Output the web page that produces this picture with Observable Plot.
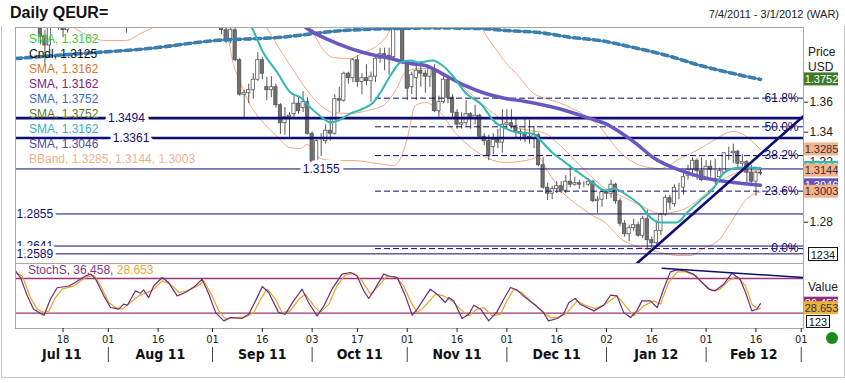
<!DOCTYPE html>
<html>
<head>
<meta charset="utf-8">
<script src="https://cdn.jsdelivr.net/npm/d3@7"></script>
<script src="https://cdn.jsdelivr.net/npm/@observablehq/plot@0.6"></script>
<style>
  html,body{margin:0;padding:0;background:#fff;}
  #root{position:relative;width:845px;height:383px;overflow:hidden;background:#fff;font-family:"Liberation Sans",Arial,sans-serif;}
  .abs{position:absolute;white-space:nowrap;}
  .plot{position:absolute;left:0;}
</style>
</head>
<body>
<div id="root"></div>
<script>
// ================= DATA =================
// trading-day index 0 = Mon 4 Jul 2011 ... 173 = Thu 1 Mar 2012
const opens = [
1.4503,1.4525,1.4414,1.4326,1.4330,1.4263,1.4040,1.3978,1.4155,1.4150,
1.4150,1.4080,1.4155,1.4140,1.4380,1.4360,1.4370,1.4500,1.4360,1.4330,
1.4390,1.4240,1.4190,1.4330,1.4140,1.4280,1.4190,1.4370,1.4170,1.4230,
1.4240,1.4430,1.4400,1.4440,1.4340,1.4390,1.4390,1.4450,1.4410,1.4390,
1.4500,1.4500,1.4440,1.4380,1.4230,1.4200,1.4080,1.4020,1.4080,1.3880,
1.3650,1.3660,1.3680,1.3750,1.3880,1.3700,1.3680,1.3700,1.3580,1.3460,
1.3500,1.3520,1.3590,1.3560,1.3600,1.3390,1.3170,1.3340,1.3340,1.3410,
1.3390,1.3620,1.3610,1.3790,1.3760,1.3880,1.3735,1.3760,1.3740,1.3770,
1.3890,1.3920,1.3910,1.3900,1.4180,1.4150,1.3860,1.3700,1.3760,1.3810,
1.3790,1.3770,1.3820,1.3540,1.3600,1.3750,1.3630,1.3530,1.3450,1.3460,
1.3520,1.3490,1.3510,1.3370,1.3340,1.3300,1.3350,1.3330,1.3450,1.3460,
1.3440,1.3400,1.3390,1.3370,1.3360,1.3380,1.3180,1.3030,1.2990,1.3020,
1.3040,1.3010,1.3070,1.3050,1.3060,1.3050,1.3050,1.3070,1.2940,1.2950,
1.3000,1.2990,1.3050,1.2940,1.2790,1.2720,1.2760,1.2780,1.2710,1.2820,
1.2680,1.2660,1.2740,1.2850,1.2960,1.2920,1.3030,1.3030,1.3110,1.3150,
1.3210,1.3140,1.3080,1.3170,1.3150,1.3100,1.3130,1.3260,1.3260,1.3270,
1.3190,1.3200,1.3130,1.3070,1.3130];
const highs = [
1.4537,1.4530,1.4430,1.4380,1.4345,1.4265,1.4080,1.4170,1.4220,1.4185,
1.4160,1.4170,1.4240,1.4430,1.4400,1.4400,1.4520,1.4540,1.4390,1.4440,
1.4450,1.4290,1.4340,1.4350,1.4330,1.4350,1.4400,1.4390,1.4270,1.4290,
1.4450,1.4480,1.4490,1.4450,1.4430,1.4440,1.4470,1.4470,1.4450,1.4510,
1.4550,1.4530,1.4500,1.4390,1.4260,1.4200,1.4130,1.4110,1.4110,1.3890,
1.3680,1.3720,1.3790,1.3930,1.3900,1.3765,1.3770,1.3720,1.3590,1.3565,
1.3530,1.3640,1.3640,1.3670,1.3630,1.3400,1.3350,1.3390,1.3450,1.3500,
1.3650,1.3700,1.3800,1.3800,1.3890,1.3910,1.3790,1.3850,1.3800,1.3900,
1.3960,1.3960,1.3960,1.4247,1.4200,1.4160,1.3870,1.3800,1.3870,1.3870,
1.3810,1.3840,1.3850,1.3640,1.3770,1.3780,1.3650,1.3550,1.3530,1.3610,
1.3530,1.3580,1.3520,1.3390,1.3380,1.3390,1.3420,1.3550,1.3550,1.3550,
1.3490,1.3420,1.3500,1.3480,1.3440,1.3390,1.3230,1.3060,1.3040,1.3070,
1.3070,1.3110,1.3180,1.3100,1.3080,1.3070,1.3090,1.3080,1.2970,1.3010,
1.3010,1.3080,1.3060,1.2960,1.2810,1.2780,1.2820,1.2800,1.2840,1.2880,
1.2700,1.2810,1.2860,1.2980,1.2980,1.3050,1.3060,1.3130,1.3180,1.3230,
1.3220,1.3230,1.3210,1.3210,1.3220,1.3160,1.3260,1.3300,1.3320,1.3280,
1.3250,1.3210,1.3180,1.3140,1.3150];
const lows = [
1.4466,1.4398,1.4290,1.4268,1.4210,1.3982,1.3840,1.3950,1.4110,1.4080,
1.4030,1.4060,1.4130,1.4130,1.4300,1.4280,1.4350,1.4340,1.4280,1.4240,
1.4220,1.4150,1.4150,1.4100,1.4060,1.4150,1.4160,1.4160,1.4120,1.4180,
1.4230,1.4340,1.4380,1.4280,1.4310,1.4340,1.4380,1.4340,1.4360,1.4330,
1.4450,1.4400,1.4370,1.4230,1.4150,1.4050,1.3990,1.3990,1.3870,1.3640,
1.3495,1.3590,1.3620,1.3740,1.3750,1.3610,1.3630,1.3560,1.3385,1.3380,
1.3360,1.3500,1.3520,1.3530,1.3380,1.3160,1.3146,1.3240,1.3320,1.3340,
1.3380,1.3530,1.3600,1.3720,1.3730,1.3700,1.3650,1.3710,1.3600,1.3730,
1.3860,1.3810,1.3780,1.3880,1.4110,1.3850,1.3610,1.3650,1.3610,1.3700,
1.3660,1.3700,1.3530,1.3500,1.3590,1.3590,1.3490,1.3420,1.3420,1.3440,
1.3420,1.3450,1.3360,1.3310,1.3211,1.3250,1.3290,1.3260,1.3420,1.3420,
1.3360,1.3340,1.3330,1.3320,1.3290,1.3170,1.3020,1.2945,1.2950,1.2990,
1.2990,1.2990,1.3030,1.3040,1.3020,1.3030,1.3040,1.2930,1.2859,1.2900,
1.2950,1.2960,1.2920,1.2770,1.2700,1.2670,1.2740,1.2700,1.2690,1.2624,
1.2625,1.2650,1.2710,1.2840,1.2880,1.2900,1.2950,1.2980,1.3080,1.3100,
1.3080,1.3070,1.3080,1.3100,1.3050,1.3080,1.3120,1.3210,1.3190,1.3160,
1.3170,1.3060,1.3060,1.2973,1.3110];
const closes = [
1.4525,1.4414,1.4326,1.4330,1.4263,1.4035,1.3978,1.4155,1.4150,1.4150,
1.4080,1.4155,1.4140,1.4380,1.4360,1.4370,1.4500,1.4360,1.4330,1.4390,
1.4240,1.4190,1.4330,1.4140,1.4280,1.4190,1.4370,1.4170,1.4230,1.4240,
1.4430,1.4400,1.4440,1.4340,1.4390,1.4390,1.4450,1.4410,1.4390,1.4500,
1.4500,1.4440,1.4380,1.4230,1.4200,1.4080,1.4020,1.4080,1.3880,1.3650,
1.3660,1.3680,1.3750,1.3880,1.3790,1.3680,1.3700,1.3580,1.3460,1.3500,
1.3510,1.3590,1.3540,1.3600,1.3390,1.3170,1.3340,1.3340,1.3410,1.3390,
1.3620,1.3610,1.3790,1.3760,1.3880,1.3735,1.3760,1.3740,1.3770,1.3890,
1.3920,1.3910,1.3900,1.4180,1.4150,1.3860,1.3690,1.3780,1.3810,1.3790,
1.3770,1.3820,1.3540,1.3600,1.3750,1.3630,1.3530,1.3450,1.3460,1.3520,
1.3490,1.3510,1.3370,1.3340,1.3240,1.3350,1.3330,1.3450,1.3460,1.3440,
1.3400,1.3390,1.3370,1.3360,1.3380,1.3180,1.3030,1.2990,1.3020,1.3040,
1.3010,1.3070,1.3050,1.3060,1.3050,1.3050,1.3070,1.2940,1.2950,1.3000,
1.2990,1.3050,1.2940,1.2790,1.2720,1.2760,1.2780,1.2710,1.2820,1.2680,
1.2660,1.2740,1.2850,1.2960,1.2930,1.3030,1.3030,1.3100,1.3150,1.3210,
1.3140,1.3080,1.3170,1.3150,1.3150,1.3140,1.3260,1.3260,1.3270,1.3190,
1.3200,1.3130,1.3070,1.3130,1.3125];

// indicator lines: [trading-day index, value]
const smaTeal = [[44,1.4300],[49,1.4180],[51.4,1.4111],[54.2,1.3931],[57.3,1.3798],[60.2,1.3665],[62.4,1.3631],[64.6,1.3565],[67.5,1.3491],[69,1.3465],[70.8,1.3478],[73.5,1.3525],[76.3,1.3558],[78.5,1.3598],[80.1,1.3665],[82.3,1.3778],[84.5,1.3865],[86.7,1.3878],[88.5,1.3865],[91.6,1.3878],[93.8,1.3845],[96,1.3778],[98.8,1.3665],[102.6,1.3578],[105,1.3478],[107.7,1.3425],[110.5,1.3398],[113.6,1.3391],[115,1.3358],[118,1.3265],[120.9,1.3198],[123.8,1.3131],[126.9,1.3065],[129.7,1.3011],[131.5,1.3025],[134.6,1.2978],[137.5,1.2911],[139.7,1.2831],[141.9,1.2798],[145.6,1.2798],[147.8,1.2865],[150.7,1.2945],[153.6,1.3025],[155.8,1.3125],[158,1.3158],[160.2,1.3165],[162.4,1.3165],[164,1.3162]];
const smaPurple = [[58,1.4250],[63.9,1.4091],[70.6,1.3991],[76.3,1.3931],[82.3,1.3891],[86.7,1.3858],[90,1.3845],[94.4,1.3778],[98.8,1.3711],[103.3,1.3658],[107.7,1.3625],[112.1,1.3605],[116.5,1.3578],[120.9,1.3545],[126.4,1.3491],[129.5,1.3460],[133.1,1.3398],[136.7,1.3320],[140.3,1.3231],[146.3,1.3145],[152.3,1.3091],[158,1.3065],[164,1.3046]];
const smaLong = [[-0.5,1.3891],[14.3,1.3925],[28.9,1.3958],[43.6,1.4011],[57.3,1.4031],[71.9,1.4078],[83,1.4091],[92,1.4095],[102.6,1.4091],[107.7,1.4078],[115,1.4065],[122.5,1.4031],[128.6,1.4011],[135.9,1.3965],[143.4,1.3911],[150.7,1.3845],[158,1.3791],[164,1.3752]];
const bbUpper = [[60,1.4300],[64.6,1.4111],[66.8,1.3978],[69.7,1.3898],[73.5,1.3891],[76.3,1.3931],[79.4,1.3978],[82.3,1.4091],[84,1.4300],[100,1.4300],[102.6,1.4091],[105.5,1.3958],[107.7,1.3865],[110.5,1.3778],[113.6,1.3665],[116.5,1.3625],[119.4,1.3598],[122.5,1.3558],[125.3,1.3511],[128.2,1.3445],[133.1,1.3265],[137.5,1.3178],[141.9,1.3158],[146.3,1.3225],[150.7,1.3291],[153.6,1.3345],[158,1.3405],[160.5,1.3380],[162.5,1.3330],[164,1.3285]];
const bbMiddle = [[50,1.4300],[54.7,1.4111],[57.3,1.3978],[60.2,1.3845],[63.1,1.3711],[66.2,1.3598],[69.7,1.3531],[73.5,1.3525],[77.2,1.3545],[80.7,1.3578],[83.4,1.3678],[85.6,1.3798],[88.5,1.3825],[91.6,1.3825],[95.1,1.3778],[100.4,1.3645],[104.8,1.3531],[108.8,1.3445],[113.2,1.3411],[116.5,1.3391],[119.8,1.3311],[123.1,1.3211],[126.4,1.3111],[129.7,1.3025],[133.1,1.2978],[137.5,1.2911],[141.9,1.2858],[146.3,1.2878],[150.7,1.2958],[154,1.3045],[157.3,1.3111],[160.7,1.3138],[164,1.3144]];
const bbLower = [[5,1.4200],[11.6,1.4111],[15,1.4051],[19.4,1.4011],[23.8,1.4011],[27.1,1.4058],[30.4,1.4111],[33,1.4200],[43,1.4200],[45.9,1.4111],[47.4,1.3880],[49.4,1.3711],[51.8,1.3558],[54.4,1.3458],[57.3,1.3371],[60,1.3298],[62.4,1.3291],[63.9,1.3318],[66.8,1.3225],[69.7,1.3211],[74.1,1.3211],[77.9,1.3198],[80.7,1.3185],[83,1.3178],[84.5,1.3225],[86,1.3358],[87.8,1.3578],[90,1.3598],[92.9,1.3545],[96.6,1.3398],[100.4,1.3291],[103.9,1.3225],[107.7,1.3198],[112.1,1.3211],[115,1.3231],[117.2,1.3131],[120.3,1.2998],[123.8,1.2911],[126.9,1.2845],[129.7,1.2798],[133.1,1.2691],[137.5,1.2631],[141.9,1.2598],[145.6,1.2578],[148.5,1.2578],[151.4,1.2625],[155.1,1.2691],[158,1.2825],[161.1,1.2958],[164,1.3003]];
const trendMain = [[136.7,1.2525],[173.4,1.3505]];

const stochK = [[-0.5,93],[0.6,81.7],[2.1,50],[3.5,27],[4.7,21],[5.8,16.5],[7.2,44],[8.7,64],[11.3,67],[12.7,73],[15,84.6],[16.1,87.5],[17.2,78.8],[19,50],[20.5,29.8],[22.3,27],[23.4,35.6],[24.2,33.8],[26,58.7],[27.1,54.6],[27.8,60.4],[28.9,47],[30,67],[31.9,81.7],[33.3,73],[35.2,50],[37,55.8],[39.2,67],[40.7,78.8],[42.2,52.9],[43.7,21],[45.5,6.7],[47,12.5],[49.5,10.8],[51,18.3],[52.5,41.3],[54,66.2],[55.4,55.8],[57.6,21],[59.1,18.3],[60.9,41.3],[62.8,61.5],[64.2,38.5],[66.1,15.4],[67.6,32.7],[69.4,61.5],[71.6,87.5],[73.5,90.4],[74.9,84.6],[76.4,58.7],[77.5,45.4],[78.6,58.7],[80.8,87.5],[82.3,83.5],[83.8,81.7],[85.6,50],[87.1,16.5],[88.2,27],[91.1,61.5],[92.6,52.9],[94.4,38.5],[95.2,47],[96.3,41.3],[98.1,10.8],[99.6,18.3],[100.7,33.8],[102.2,27],[104,6.7],[105.8,22.3],[107.3,44.2],[108.8,64.4],[110.2,60.4],[112.1,47],[114.3,33.8],[116.1,21],[117.2,6.7],[119.1,10.8],[120.5,18.3],[121.7,38.5],[123.1,45.4],[124.2,35.6],[127.2,24],[129.4,33.8],[130.9,51.1],[132.3,50],[133.8,21],[135.3,12.5],[136.7,24],[137.8,41.3],[139.7,41.3],[141.2,29.8],[142.6,61.5],[144.1,91.5],[145.6,95],[147.4,93],[149.2,87.5],[151.1,73],[152.6,61.5],[154,58.7],[155.9,70.2],[157.7,89.2],[159.5,78.8],[160.7,55.8],[162.1,24],[163.2,26.9],[164,36.458]];
const stochD = [[-0.5,89.6],[1,84.6],[2.8,47],[4.3,27],[5.8,21],[6.9,24],[8.3,47],[9.8,61.5],[12.4,67.3],[15,81.7],[16.8,85.8],[18.3,67.3],[20.1,38.5],[21.6,29.8],[23.1,27],[24.9,38.5],[26.7,50],[28.6,55.8],[30,61.5],[31.9,76],[33.7,70.2],[35.6,55.8],[37.4,58.7],[39.6,66.2],[41.1,76],[42.9,50],[44.4,24],[45.9,9.6],[48.1,12.5],[50.3,13.6],[52.1,21],[53.6,44.2],[55.1,61.5],[56.9,44.2],[58.4,21],[60.2,24],[62.1,44.2],[63.5,52.9],[65.4,32.7],[66.8,21],[68.7,35.6],[70.5,67.3],[72.3,85.8],[74.2,89.2],[76,76],[77.9,52.9],[79.7,67.3],[81.5,83.5],[83.4,83.5],[85.2,67.3],[86.7,41.3],[88.2,21],[90,32.7],[92.2,52.9],[94,50],[95.9,41.3],[97.7,27],[99.6,15.4],[101.4,27],[102.9,29.8],[104.7,15.4],[106.6,18.3],[108,41.3],[109.5,61.5],[111.3,55.8],[113.2,41.3],[115.4,27],[117.6,12.5],[119.4,12.5],[121.3,21],[123.5,41.3],[125.3,33.8],[127.5,28],[129.7,35.6],[132.3,50],[134.2,32.7],[136,15.4],[138.2,32.7],[140.4,41.3],[141.9,35.6],[143.7,73],[145.6,91.5],[147.4,91.5],[149.6,85.8],[151.5,70.2],[153.3,58.7],[155.1,61.5],[156.9,76],[158.8,83.5],[160.7,67.3],[162.1,35.6],[163.6,27],[164,28.653]];
const stochTrend = [[142.3,97.6],[173.5,81.8]];
const stochLevels = [20, 80];

const hLines = [
  {p:1.3494, thick:true,  lx:24},
  {p:1.3361, thick:true,  lx:25},
  {p:1.3155, thick:false, lx:67},
  {p:1.2855, thick:false, lx:null},
  {p:1.2641, thick:false, lx:null},
  {p:1.2589, thick:false, lx:null}
];
const fibStart = 79;
const fibLevels = [
  {p:1.3627, label:"61.8%"},
  {p:1.3436, label:"50.0%"},
  {p:1.3244, label:"38.2%"},
  {p:1.3007, label:"23.6%"},
  {p:1.2624, label:"0.0%"}
];
const priceTicks = [1.28, 1.32, 1.34, 1.36];
const priceBoxes = [
  {v:1.3162, label:"1.3162", fill:"#36b9b6", color:"#ffffff"},
  {v:1.3046, label:"1.3046", fill:"#6652b6", color:"#ffffff"},
  {v:1.3752, label:"1.3752", fill:"#3f7a25", color:"#ffffff"},
  {v:1.3285, label:"1.3285", fill:"#f6b28a", color:"#333333"},
  {v:1.3144, label:"1.3144", fill:"#f6b28a", color:"#333333"},
  {v:1.3003, label:"1.3003", fill:"#f6b28a", color:"#333333"}
];
const stochBoxes = [
  {v:36.458, label:"36.458", fill:"#8e2f78", color:"#ffffff"},
  {v:28.653, label:"28.653", fill:"#eab23a", color:"#333333"}
];
const dateTickIdx = [10,20,31,43,54,65,75,86,97,108,119,130,140,152,163,173];
const dateTickLabels = ["18","01","16","01","16","03","17","01","16","01","16","02","16","01","16","01"];
const monthCenters = [9.75,31.5,54,75.5,97,119,141,162.5];
const monthLabels = ["Jul 11","Aug 11","Sep 11","Oct 11","Nov 11","Dec 11","Jan 12","Feb 12"];
const monthBounds = [20,43,65,86,108,130,152,173];

const legendItems = [
  {t:"SMA, 1.3162", c:"#3ccc3c"},
  {t:"Cndl, 1.3125", c:"#111111"},
  {t:"SMA, 1.3162", c:"#d2782a"},
  {t:"SMA, 1.3162", c:"#80207a"},
  {t:"SMA, 1.3752", c:"#3a6eb8"},
  {t:"SMA, 1.3752", c:"#5e7a1e"},
  {t:"SMA, 1.3162", c:"#33b3b3"},
  {t:"SMA, 1.3046", c:"#5a4a9a"},
  {t:"BBand, 1.3285, 1.3144, 1.3003", c:"#f0b090"}
];

// ================= BUILD =================
const FONT = '"Liberation Sans", Arial, sans-serif';
const NARROW = '"Liberation Sans Narrow", "Arial Narrow", "DejaVu Sans Condensed", "Liberation Sans", sans-serif';
const NAVY = "#0d0d72";
const BB = "#f2a97e";
const X_DOMAIN = [-0.5, 173.5];
const PRICE_DOMAIN = [1.25247, 1.4098];
const STOCH_DOMAIN = [-6.47, 105.95];

const candles = opens.map((o, i) => ({i, o, h: highs[i], l: lows[i], c: closes[i], up: closes[i] >= o}));
const X = d => d[0], Y = d => d[1];

const root = document.getElementById("root");
function addDiv(css, html) {
  const d = document.createElement("div");
  d.className = "abs";
  d.style.cssText = css;
  d.innerHTML = html;
  root.appendChild(d);
  return d;
}

// outer frame
addDiv("left:1px;top:26px;width:842px;height:351px;border:1px solid #c4c4c4;border-top:none;", "");

const boxMarks = (boxes) => boxes.flatMap(b => [
  Plot.rect([b], {y1: "v", y2: "v", insetTop: -6.5, insetBottom: -6.5, insetLeft: 789, insetRight: -35, fill: b.fill}),
  Plot.text([b], {y: "v", text: "label", frameAnchor: "right", textAnchor: "middle", dx: 18, fill: b.color, fontSize: 11})
]);

const main = Plot.plot({
  width: 845, height: 238,
  marginTop: 2, marginBottom: 0, marginLeft: 15, marginRight: 42,
  x: {domain: X_DOMAIN, axis: null},
  y: {domain: PRICE_DOMAIN, axis: null},
  style: {fontFamily: FONT, fontSize: "11px", background: "transparent", overflow: "visible", color: "#222"},
  marks: [
    Plot.line(bbUpper, {x: X, y: Y, stroke: BB, strokeWidth: 1, curve: "monotone-x", clip: true}),
    Plot.line(bbMiddle, {x: X, y: Y, stroke: BB, strokeWidth: 1, curve: "monotone-x", clip: true}),
    Plot.line(bbLower, {x: X, y: Y, stroke: BB, strokeWidth: 1, curve: "monotone-x", clip: true}),
    Plot.ruleX(candles, {x: "i", y1: "l", y2: "h", stroke: "#555", strokeWidth: 1, clip: true}),
    Plot.rect(candles, {x1: d => d.i - 0.36, x2: d => d.i + 0.36, y1: "o", y2: "c", fill: d => d.up ? "#ffffff" : "#707070", stroke: "#555", strokeWidth: 0.8, clip: true}),
    Plot.ruleY(fibLevels, {y: "p", x1: () => fibStart, x2: () => X_DOMAIN[1], stroke: NAVY, strokeWidth: 1, strokeDasharray: "6,3"}),
    Plot.ruleY(hLines.filter(d => d.thick), {y: "p", stroke: NAVY, strokeWidth: 2.6}),
    Plot.ruleY(hLines.filter(d => !d.thick), {y: "p", stroke: NAVY, strokeWidth: 1}),
    Plot.line(smaLong, {x: X, y: Y, stroke: "#2a6472", strokeWidth: 1.3, curve: "monotone-x", clip: true}),
    Plot.line(smaLong, {x: X, y: Y, stroke: "#3a7db0", strokeWidth: 3.6, strokeDasharray: "6,4", curve: "monotone-x", clip: true}),
    Plot.line(smaPurple, {x: X, y: Y, stroke: "#6a56c2", strokeWidth: 3.5, curve: "monotone-x", clip: true}),
    Plot.line(smaTeal, {x: X, y: Y, stroke: "#2fb7b2", strokeWidth: 2, curve: "monotone-x", clip: true}),
    Plot.line(trendMain, {x: X, y: Y, stroke: NAVY, strokeWidth: 2.6, clip: true}),
    Plot.text(hLines.filter(d => d.lx != null), {x: "lx", y: "p", text: d => d.p.toFixed(4), fill: NAVY, stroke: "#fff", strokeWidth: 8, fontSize: 12}),
    Plot.text(hLines.filter(d => d.lx == null), {x: () => X_DOMAIN[0], y: "p", text: d => d.p.toFixed(4), textAnchor: "start", dx: 1, fill: NAVY, stroke: "#fff", strokeWidth: 6, fontSize: 12}),
    Plot.text(fibLevels, {y: "p", text: "label", frameAnchor: "right", textAnchor: "end", dx: -5, fill: NAVY, fontSize: 12}),
    Plot.frame({stroke: "#a8a8a8"}),
    Plot.axisY({anchor: "right", ticks: priceTicks, tickSize: 4, tickPadding: 2, tickFormat: d => d.toFixed(2), fontSize: 12, color: "#222"}),
    ...boxMarks(priceBoxes)
  ]
});
const mainWrap = document.createElement("div");
mainWrap.className = "plot"; mainWrap.style.top = "25px";
mainWrap.appendChild(main); root.appendChild(mainWrap);

const tickLabel = new Map(dateTickIdx.map((d, i) => [d, dateTickLabels[i]]));
const monthLabel = new Map(monthCenters.map((d, i) => [d, monthLabels[i]]));

const stoch = Plot.plot({
  width: 845, height: 115,
  marginTop: 0, marginBottom: 50, marginLeft: 15, marginRight: 42,
  x: {domain: X_DOMAIN, axis: null},
  y: {domain: STOCH_DOMAIN, axis: null},
  style: {fontFamily: FONT, fontSize: "11px", background: "transparent", overflow: "visible", color: "#222"},
  marks: [
    Plot.ruleY(stochLevels, {stroke: "#9a3578", strokeWidth: 1.3}),
    Plot.line(stochD, {x: X, y: Y, stroke: "#e8a423", strokeWidth: 1.2, clip: true}),
    Plot.line(stochK, {x: X, y: Y, stroke: "#6a2c82", strokeWidth: 1.2, clip: true}),
    Plot.line(stochTrend, {x: X, y: Y, stroke: NAVY, strokeWidth: 1.5, clip: true}),
    Plot.frame({stroke: "#a8a8a8"}),
    Plot.axisX({anchor: "bottom", ticks: dateTickIdx, tickFormat: d => tickLabel.get(d), tickSize: 4, tickPadding: 3, fontSize: 11, fontFamily: NARROW, color: "#222"}),
    Plot.axisX({anchor: "bottom", ticks: monthCenters, tickFormat: d => monthLabel.get(d), tickSize: 0, tickPadding: 21, fontSize: 14, fontWeight: "bold", fontFamily: NARROW, color: "#111"}),
    Plot.tickX(monthBounds, {x: d => d, insetTop: 84, insetBottom: -34, stroke: "#444", strokeWidth: 1}),
    ...boxMarks(stochBoxes)
  ]
});
const stochWrap = document.createElement("div");
stochWrap.className = "plot"; stochWrap.style.top = "263px";
stochWrap.appendChild(stoch); root.appendChild(stochWrap);

// ---- text overlays ----
addDiv("left:10px;top:3px;font-size:16px;font-weight:bold;color:#111;line-height:20px;", "Daily QEUR=");
addDiv("right:6px;top:7px;font-size:11px;color:#222;line-height:14px;", "7/4/2011 - 3/1/2012 (WAR)");
legendItems.forEach((it, k) => {
  addDiv(`left:29px;top:${32 + k * 15}px;font-size:12px;line-height:14px;color:${it.c};`, it.t);
});
addDiv("left:28px;top:263px;font-size:12px;line-height:14px;color:#7a3a8a;", 'StochS, 36.458, <span style="color:#e2a93a">28.653</span>');
addDiv("left:808px;top:45px;font-size:12px;line-height:14px;color:#222;", "Price");
addDiv("left:808px;top:60px;font-size:12px;line-height:14px;color:#222;", "USD");
addDiv("left:808px;top:280px;font-size:12px;line-height:14px;color:#222;", "Value");
addDiv("left:808px;top:247px;width:30px;height:14px;border:1px solid #111;background:#fff;font-size:11px;line-height:14px;text-align:center;color:#111;box-sizing:border-box;", "1234");
addDiv("left:806px;top:315px;width:24px;height:13px;border:1px solid #111;background:#fff;font-size:11px;line-height:12px;text-align:center;color:#111;box-sizing:border-box;", "123");
addDiv("left:826px;top:332px;width:12px;height:12px;border-radius:6px;background:#178a17;", "");
</script>
</body>
</html>
